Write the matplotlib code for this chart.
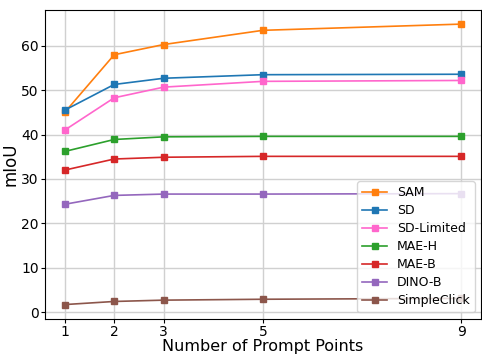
import matplotlib.pyplot as plt

points = [1, 2, 3, 5, 9]

sam = [45.0, 58.0, 60.3, 63.5, 64.9]
sd = [45.5, 51.3, 52.7, 53.5, 53.6]
sd_limited = [41.0, 48.3, 50.7, 52.0, 52.2]
mae_h = [36.2, 38.9, 39.5, 39.6, 39.6]
mae_b = [32.0, 34.5, 34.9, 35.1, 35.1]
dino_b = [24.3, 26.3, 26.6, 26.6, 26.7]
simpleclick = [1.7, 2.4, 2.7, 2.9, 3.1]

series = [
    ('SAM', sam, 'tab:orange'),
    ('SD', sd, 'tab:blue'),
    ('SD-Limited', sd_limited, '#ff66cc'),
    ('MAE-H', mae_h, 'tab:green'),
    ('MAE-B', mae_b, 'tab:red'),
    ('DINO-B', dino_b, 'tab:purple'),
    ('SimpleClick', simpleclick, 'tab:brown'),
]

fig, ax = plt.subplots(figsize=(4.82, 3.6), dpi=100)
for name, vals, col in series:
    ax.plot(points, vals, marker='s', markersize=5, color=col, label=name, linewidth=1.2)

ax.set_xticks(points)
ax.tick_params(length=3, pad=1.5, labelsize=10)
ax.set_xlabel('Number of Prompt Points', fontsize=11.5, labelpad=0)
ax.set_ylabel('mIoU', fontsize=12, labelpad=1)
ax.grid(True, color='#d0d0d0', linewidth=1)
ax.set_axisbelow(True)
ax.legend(loc='lower right', fontsize=9, labelspacing=0.4)

fig.subplots_adjust(left=0.093, right=0.998, top=0.972, bottom=0.115)
fig.savefig('out.png')
